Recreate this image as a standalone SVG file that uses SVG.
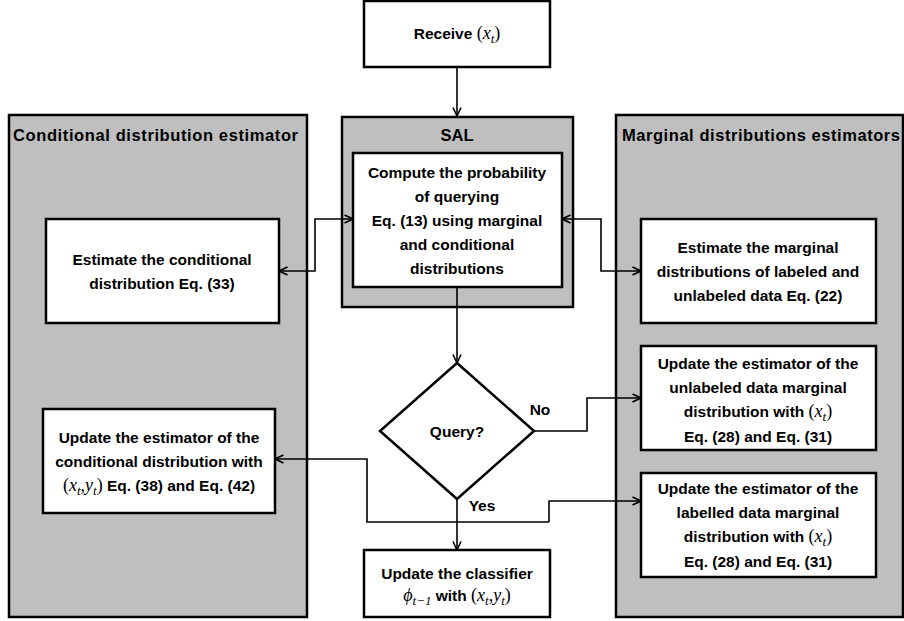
<svg xmlns="http://www.w3.org/2000/svg" width="904" height="621" viewBox="0 0 904 621">
<defs>
<style>
.panel{fill:#bfbfbf;stroke:#000;stroke-width:2.5}
.box{fill:#fff;stroke:#000;stroke-width:2.5}
.hdr{font-family:"Liberation Sans",Arial,sans-serif;font-weight:bold;font-size:16.5px;fill:#000}
.t{font-family:"Liberation Sans",Arial,sans-serif;font-weight:bold;font-size:15.5px;fill:#000;text-anchor:middle}
.m{font-family:"Liberation Serif","Times New Roman",serif;font-weight:normal;font-size:18px}
.mi{font-style:italic}
.sub{font-size:13px;font-style:italic}
.c{fill:none;stroke:#000;stroke-width:1.6}
</style>
<marker id="ah" viewBox="0 0 10 10" refX="9.5" refY="5" markerWidth="10" markerHeight="10" markerUnits="userSpaceOnUse" orient="auto-start-reverse">
<path d="M1,1 L9.5,5 L1,9" fill="none" stroke="#000" stroke-width="1.6"/>
</marker>
</defs>
<rect width="904" height="621" fill="#fff"/>

<g id="panel-conditional">
<rect class="panel" x="9" y="115" width="298" height="502"/>
<text class="hdr" x="13" y="141" textLength="285" lengthAdjust="spacing">Conditional distribution estimator</text>
</g>
<g id="panel-sal">
<rect class="panel" x="342" y="117" width="231" height="190"/>
<text class="hdr" x="457" y="141" text-anchor="middle">SAL</text>
</g>
<g id="panel-marginal">
<rect class="panel" x="616" y="115" width="287" height="502"/>
<text class="hdr" x="622" y="141" textLength="278" lengthAdjust="spacing">Marginal distributions estimators</text>
</g>

<g id="receive">
<rect class="box" x="364" y="1" width="186" height="66"/>
<text class="t" x="457" y="39">Receive <tspan class="m">(<tspan class="mi">x</tspan><tspan class="sub" dy="4">t</tspan><tspan dy="-4">)</tspan></tspan></text>
</g>

<g id="compute">
<rect class="box" x="353" y="153" width="209" height="134"/>
<text class="t" x="457" y="178">Compute the probability</text>
<text class="t" x="457" y="202">of querying</text>
<text class="t" x="457" y="226">Eq. (13) using marginal</text>
<text class="t" x="457" y="250">and conditional</text>
<text class="t" x="457" y="274">distributions</text>
</g>

<g id="estimate-conditional">
<rect class="box" x="46" y="219" width="233" height="104"/>
<text class="t" x="162" y="265">Estimate the conditional</text>
<text class="t" x="162" y="289">distribution  Eq. (33)</text>
</g>

<g id="estimate-marginal">
<rect class="box" x="641" y="219" width="235" height="104"/>
<text class="t" x="758" y="253">Estimate the marginal</text>
<text class="t" x="758" y="277">distributions of labeled and</text>
<text class="t" x="758" y="301">unlabeled data Eq. (22)</text>
</g>

<g id="query">
<polygon class="box" points="457,363 534,431 457,499 380,431"/>
<text class="t" x="457" y="437">Query?</text>
</g>

<g id="update-unlabeled">
<rect class="box" x="641" y="346" width="235" height="104"/>
<text class="t" x="758" y="369">Update the estimator of the</text>
<text class="t" x="758" y="393">unlabeled data marginal</text>
<text class="t" x="758" y="417">distribution with <tspan class="m">(<tspan class="mi">x</tspan><tspan class="sub" dy="4">t</tspan><tspan dy="-4">)</tspan></tspan></text>
<text class="t" x="758" y="442">Eq. (28) and Eq. (31)</text>
</g>

<g id="update-labelled">
<rect class="box" x="641" y="473" width="235" height="104"/>
<text class="t" x="758" y="494">Update the estimator of the</text>
<text class="t" x="758" y="518">labelled data marginal</text>
<text class="t" x="758" y="542">distribution with <tspan class="m">(<tspan class="mi">x</tspan><tspan class="sub" dy="4">t</tspan><tspan dy="-4">)</tspan></tspan></text>
<text class="t" x="758" y="567">Eq. (28) and Eq. (31)</text>
</g>

<g id="update-conditional">
<rect class="box" x="43" y="409" width="232" height="104"/>
<text class="t" x="159" y="443">Update the estimator of the</text>
<text class="t" x="159" y="467">conditional distribution with</text>
<text class="t" x="159" y="491"><tspan class="m">(<tspan class="mi">x</tspan><tspan class="sub" dy="4">t</tspan><tspan dy="-4">,</tspan><tspan class="mi">y</tspan><tspan class="sub" dy="4">t</tspan><tspan dy="-4">)</tspan></tspan> Eq. (38) and Eq. (42)</text>
</g>

<g id="update-classifier">
<rect class="box" x="364" y="550" width="186" height="67"/>
<text class="t" x="457" y="579">Update the classifier</text>
<text class="t" x="457" y="601"><tspan class="m"><tspan class="mi">ϕ</tspan><tspan class="sub" dy="4">t−1</tspan></tspan><tspan dy="-4"> with </tspan><tspan class="m">(<tspan class="mi">x</tspan><tspan class="sub" dy="4">t</tspan><tspan dy="-4">,</tspan><tspan class="mi">y</tspan><tspan class="sub" dy="4">t</tspan><tspan dy="-4">)</tspan></tspan></text>
</g>

<g id="connectors">
<path class="c" d="M457,67 V116" marker-end="url(#ah)"/>
<path class="c" d="M457,287 V363" marker-end="url(#ah)"/>
<path class="c" d="M353,219 H315 V271 H279" marker-start="url(#ah)" marker-end="url(#ah)"/>
<path class="c" d="M562,219 H601 V271 H641" marker-start="url(#ah)" marker-end="url(#ah)"/>
<path class="c" d="M534,431 H587 V398 H641" marker-end="url(#ah)"/>
<path class="c" d="M457,499 V550" marker-end="url(#ah)"/>
<path class="c" d="M549,522 V501 H641" marker-end="url(#ah)"/>
<path class="c" d="M549,522 H367 V459 H275" marker-end="url(#ah)"/>
<text class="t" x="540" y="415">No</text>
<text class="t" x="482" y="511">Yes</text>
</g>
</svg>
